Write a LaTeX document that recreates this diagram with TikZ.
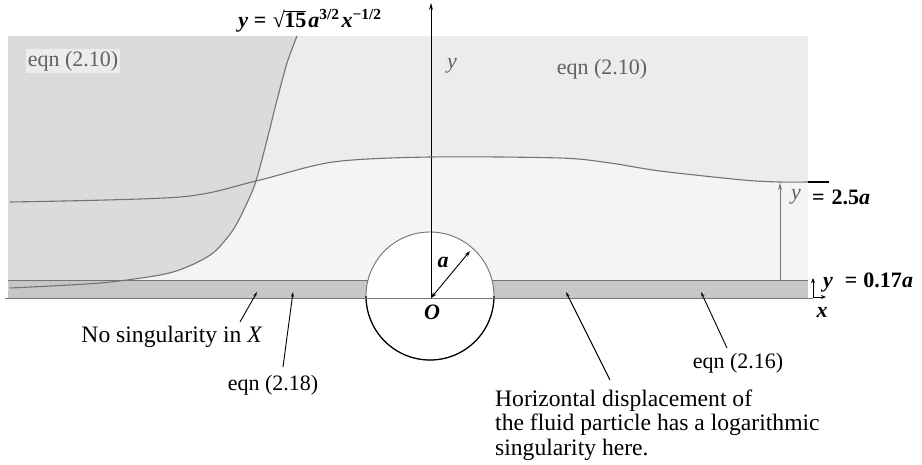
\documentclass[tikz,border=0pt]{standalone}
\usepackage{fontspec}
\setmainfont{Liberation Serif}
\usetikzlibrary{arrows.meta}
\definecolor{paneldark}{gray}{0.86}
\definecolor{panelmid}{gray}{0.925}
\definecolor{panellight}{gray}{0.955}
\definecolor{bandgray}{gray}{0.78}
\definecolor{linegray}{gray}{0.45}
\definecolor{textgray}{gray}{0.38}
\begin{document}
\begin{tikzpicture}[x=1pt,y=-1pt,
  font=\fontsize{22}{24.5}\selectfont,
  lbl/.style={inner sep=1pt},
  biglbl/.style={inner sep=1pt,font=\fontsize{23.6}{24.5}\selectfont},
  glbl/.style={inner sep=1pt,text=textgray},
  ptr/.style={black,line width=0.9pt,-{Stealth[length=5pt,width=3pt]}},
  stream/.style={linegray,line width=1.1pt},
  tip/.style={-{Stealth[length=7pt,width=4pt]}}]
\useasboundingbox (0,0) rectangle (922,464);
% panels
\fill[panelmid] (8,36) rectangle (808,298);
\fill[panellight] plot[smooth] coordinates {(10,202) (180,197) (256,181) (333,162) (430,157) (560,158) (610,163) (660,171) (743,180) (780,182) (808,182)} -- (808,280) -- (10,280) -- cycle;
\fill[paneldark] (8,36) -- (297,36) -- plot[smooth] coordinates {(297,36) (287,63) (277,100) (267,140) (256,181) (247,203) (233,230) (213,253) (187,267) (160,275) (100,283) (10,288)} -- (8,288) -- cycle;
% boundary band
\fill[bandgray] (8,280) rectangle (808,298);
\draw[linegray,line width=0.6pt] (8,280) -- (808,280);
% circle
\coordinate (O) at (431,298);
\coordinate (C) at (430,296);
\draw[linegray,line width=0.9pt,fill=white] (C) circle (64);
\draw[black,line width=1.2pt] (366,296) arc (180:0:64);
% x axis
\draw[linegray,line width=0.8pt] (5,298) -- (813,298);
% y axis
\coordinate (ytop) at (431,3);
\draw[black,line width=0.9pt,tip] (O) -- (ytop);
% radius
\coordinate (R) at (470,251);
\draw[black,line width=0.9pt,{Stealth[length=6pt,width=4pt]}-{Stealth[length=6pt,width=4pt]}] (O) -- (R);
% streamline
\draw[stream] plot[smooth] coordinates {(10,202) (180,197) (256,181) (333,162) (430,157) (560,158) (610,163) (660,171) (743,180) (780,182) (808,182)};
\coordinate (sEnd) at (808,182);
\coordinate (sTick) at (829,182);
\draw[black,line width=1.6pt] (sEnd) -- (sTick);
% curve
\draw[stream] plot[smooth] coordinates {(297,36) (287,63) (277,100) (267,140) (256,181) (247,203) (233,230) (213,253) (187,267) (160,275) (100,283) (10,288)};
% height arrow
\coordinate (hB) at (780,280);
\coordinate (hT) at (780,183);
\draw[linegray,line width=0.8pt,tip] (hB) -- (hT);
% small axes at right
\coordinate (sa) at (813,297);
\coordinate (sy) at (813,278);
\coordinate (sx) at (826,297);
\draw[black,line width=1pt,{Stealth[length=5pt,width=4pt]}-] (sy) -- (sa);
\draw[black,line width=1pt,-{Stealth[length=5pt,width=4pt]}] (sa) -- (sx);
% labels
\node[glbl,fill=panelmid,inner sep=2pt] (e1) at (73,61) {eqn (2.10)};
\node[glbl] (e2) at (602,69) {eqn (2.10)};
\node[glbl] (ylab) at (452,66) {\textit{y}};
\node[lbl] (curvelab) at (310,21) {\bfseries\itshape y\/\upshape\ = \kern1pt√\kern-0.5pt$\overline{\hbox{\bfseries 15}}$\kern2pt\itshape a\textsuperscript{\upshape 3/2}\kern2pt x\textsuperscript{\upshape −1/2}};
\node[glbl] (y25) at (796,197) {\textit{y}};
\node[lbl,anchor=west] (eq25) at (811,197) {\bfseries =\kern7pt 2.5\textit{a}};
\node[lbl,anchor=west] (y017) at (822,283) {\bfseries\itshape y\upshape\kern12pt=\kern6pt0.17\itshape a};
\node[lbl] (xlab) at (822,312) {\bfseries\itshape x};
\node[lbl] (Olab) at (432,312) {\bfseries\itshape O};
\node[lbl] (alab) at (443,262) {\bfseries\itshape a};
\node[biglbl] (nosing) at (172,337) {No singularity in \textit{X}};
\node[lbl] (e218) at (273,385) {eqn (2.18)};
\node[lbl] (e216) at (738,363) {eqn (2.16)};
\node[biglbl,anchor=west,align=left,inner sep=0pt] (horiz) at (495,425) {Horizontal displacement of\\the fluid particle has a logarithmic\\singularity here.};
% pointers
\coordinate (p1) at (240,322);
\coordinate (q1) at (257,292);
\coordinate (p2) at (283,367);
\coordinate (q2) at (293,292);
\coordinate (p3) at (610,380);
\coordinate (q3) at (566,292);
\coordinate (p4) at (727,348);
\coordinate (q4) at (701,292);
\draw[ptr] (p1) -- (q1);
\draw[ptr] (p2) -- (q2);
\draw[ptr] (p3) -- (q3);
\draw[ptr] (p4) -- (q4);
\end{tikzpicture}
\end{document}
